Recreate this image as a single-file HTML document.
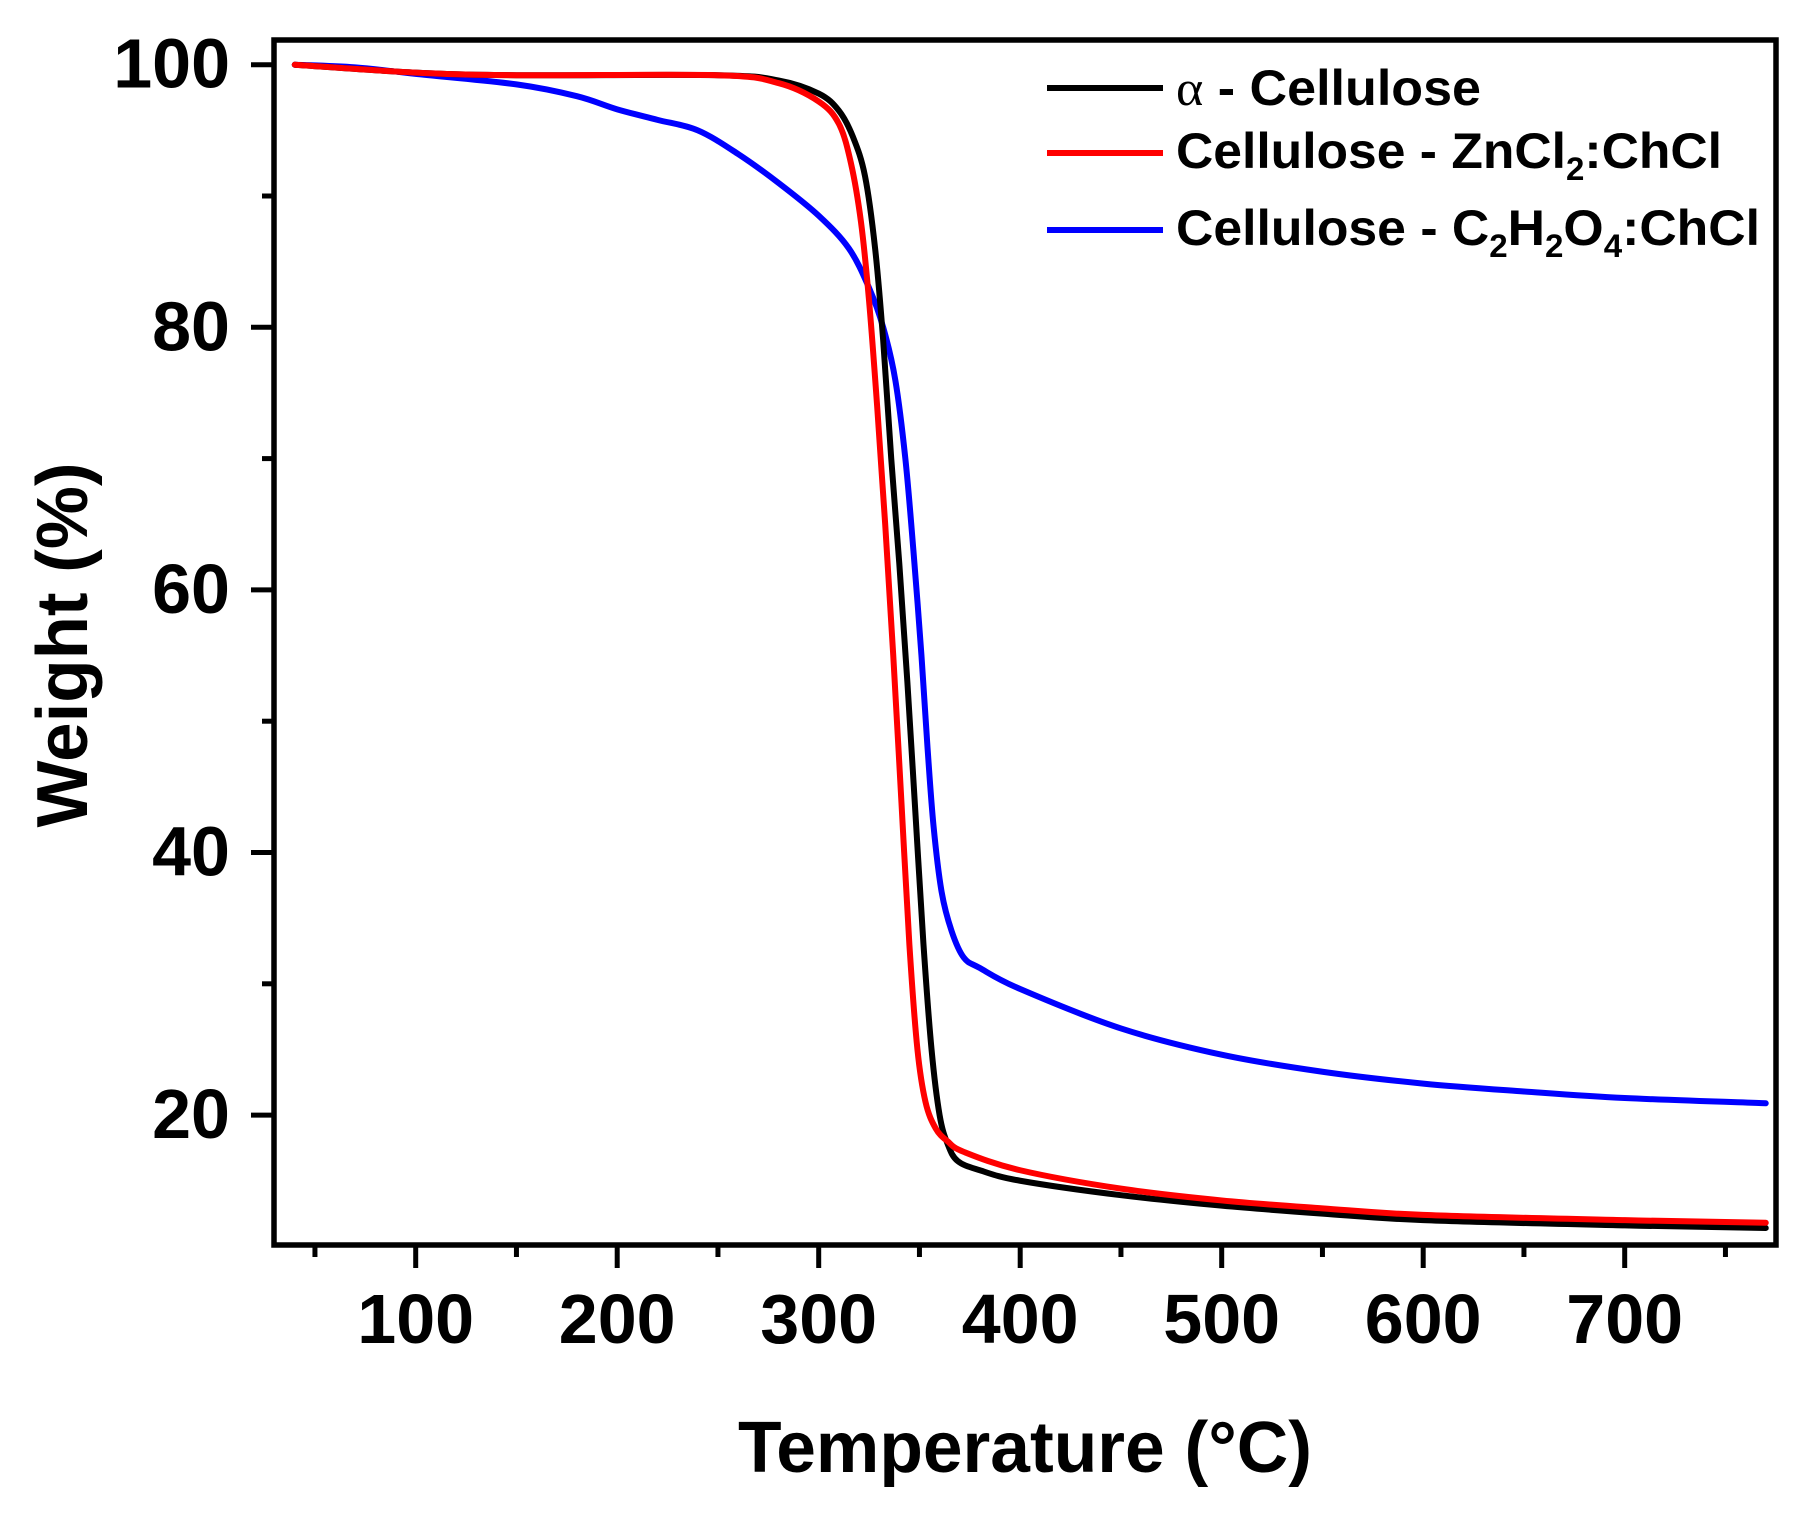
<!DOCTYPE html>
<html><head><meta charset="utf-8"><style>
html,body{margin:0;padding:0;background:#fff;}
svg{display:block;}
text{font-family:"Liberation Sans",Arial,sans-serif;font-weight:bold;fill:#000;}
</style></head><body>
<svg id="s" width="1811" height="1517" viewBox="0 0 1811 1517" xmlns="http://www.w3.org/2000/svg">
<g id="ticks" stroke="#000" stroke-width="5"></g>
<g id="curves" fill="none" stroke-width="6" stroke-linejoin="round" stroke-linecap="round"></g>
<rect x="274" y="40" width="1502" height="1205" fill="none" stroke="#000" stroke-width="5.5"/>
<g id="labels" font-size="70"></g>
<text x="1025" y="1472" font-size="72" text-anchor="middle" textLength="574" lengthAdjust="spacingAndGlyphs">Temperature (°C)</text>
<text transform="translate(87,645) rotate(-90)" font-size="72" text-anchor="middle" textLength="365" lengthAdjust="spacingAndGlyphs">Weight (%)</text>
<g stroke-width="6">
<line x1="1047" y1="88" x2="1163" y2="88" stroke="#000"/>
<line x1="1047" y1="153" x2="1163" y2="153" stroke="#f00"/>
<line x1="1047" y1="230" x2="1163" y2="230" stroke="#00f"/>
</g>
<text x="1176" y="105" font-size="50" textLength="305" lengthAdjust="spacingAndGlyphs"><tspan font-weight="normal" font-family="Liberation Serif,serif">α</tspan> - Cellulose</text>
<text x="1176" y="168" font-size="50" textLength="546" lengthAdjust="spacingAndGlyphs">Cellulose - ZnCl<tspan font-size="32" dy="12">2</tspan><tspan dy="-12">:ChCl</tspan></text>
<text x="1176" y="245" font-size="50" textLength="584" lengthAdjust="spacingAndGlyphs">Cellulose - C<tspan font-size="32" dy="12">2</tspan><tspan dy="-12">H</tspan><tspan font-size="32" dy="12">2</tspan><tspan dy="-12">O</tspan><tspan font-size="32" dy="12">4</tspan><tspan dy="-12">:ChCl</tspan></text>
</svg>
<script>
var NS="http://www.w3.org/2000/svg";
function X(t){return 415.7+(t-100)*2.015;}
function Y(w){return 64.7+(100-w)*13.13;}
function el(p,n,a,txt){var e=document.createElementNS(NS,n);for(var k in a)e.setAttribute(k,a[k]);if(txt)e.textContent=txt;p.appendChild(e);return e;}
var tk=document.getElementById('ticks'),lb=document.getElementById('labels');
for(var t=50;t<=750;t+=50){var maj=t%100==0;el(tk,'line',{x1:X(t),x2:X(t),y1:1245,y2:1245+(maj?23:12)});
 if(maj)el(lb,'text',{x:X(t),y:1343,'text-anchor':'middle'},String(t));}
for(var w=20;w<=100;w+=10){var maj=w%20==0;el(tk,'line',{x1:274,x2:274-(maj?23:12),y1:Y(w),y2:Y(w)});
 if(maj)el(lb,'text',{x:230,y:Y(w)+23,'text-anchor':'end'},String(w));}
var data={
'#000':[[40,100],[100,99.4],[150,99.2],[250,99.2],[280,98.8],[300,97.8],[310,96.5],[317,94.5],[323,91.5],[328,86],[332,79],[336,70],[340,62],[344,53],[348,43],[352,33],[356,25],[360,20],[364,17.8],[369,16.5],[380,15.8],[400,15],[450,13.9],[500,13.1],[550,12.5],[600,12.0],[700,11.6],[770,11.4]],
'#f00':[[40,100],[100,99.4],[150,99.2],[250,99.2],[280,98.6],[300,97.2],[310,95.5],[316,92.5],[321,88],[325,82],[329,74],[333,65],[337,55],[341,44],[345,33],[349,25],[353,21],[358,19],[364,18],[372,17.2],[400,15.8],[450,14.4],[500,13.5],[550,12.9],[600,12.4],[700,12.0],[770,11.8]],
'#00f':[[40,100],[70,99.8],[100,99.3],[150,98.5],[180,97.6],[200,96.6],[220,95.8],[240,95],[260,93.2],[280,91],[300,88.5],[315,86],[325,83],[332,80],[338,76],[343,70],[347,63],[351,55],[354,48],[357,42],[361,37],[366,34],[372,32],[380,31.2],[400,29.6],[450,26.6],[500,24.6],[550,23.3],[600,22.4],[650,21.8],[700,21.3],[770,20.9]]};
var cg=document.getElementById('curves');
['#00f','#000','#f00'].forEach(function(c){
 var p=data[c];var d='M'+X(p[0][0])+','+Y(p[0][1]);
 for(var i=0;i<p.length-1;i++){var p0=p[Math.max(0,i-1)],p1=p[i],p2=p[i+1],p3=p[Math.min(p.length-1,i+2)];
  var a=[X(p0[0]),Y(p0[1])],b=[X(p1[0]),Y(p1[1])],cc=[X(p2[0]),Y(p2[1])],dd=[X(p3[0]),Y(p3[1])];
  d+=' C'+(b[0]+(cc[0]-a[0])/6)+','+(b[1]+(cc[1]-a[1])/6)+' '+(cc[0]-(dd[0]-b[0])/6)+','+(cc[1]-(dd[1]-b[1])/6)+' '+cc[0]+','+cc[1];}
 el(cg,'path',{d:d,stroke:c});
});
</script>
</body></html>
